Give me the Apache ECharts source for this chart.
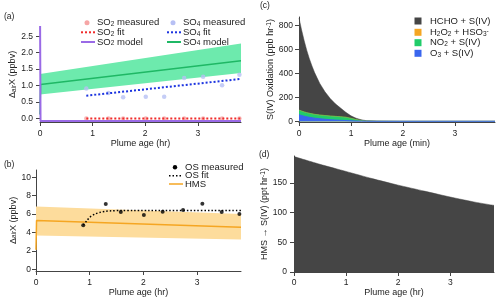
<!DOCTYPE html>
<html><head><meta charset="utf-8">
<script src="https://cdn.jsdelivr.net/npm/echarts@6/dist/echarts.min.js"></script>
<style>html,body{margin:0;padding:0;background:#fff}#c{width:500px;height:300px}</style>
</head><body><div id="c"></div>
<script>
// ---------- Panel (a) ----------
const ageHr = [0.88, 1.30, 1.58, 2.01, 2.36, 2.74, 3.10, 3.46, 3.79];
const so2Measured = [0, 0, 0, 0, 0, 0, 0, 0, 0];
const so4Measured = [0.91, 0.77, 0.64, 0.66, 0.66, 1.23, 1.27, 1.01, 1.33];
const fitX = [0.88, 3.82];
const so2Fit = [0.0, 0.0];
const so4Fit = [0.69, 1.20];
const modelX = [0, 0.01, 3.82];
const so2Model = [3.5, -0.08, -0.08];
const so4Model = [0.12, 1.03, 1.75];
const bandX = [0, 3.82];
const so4BandLow = [0.73, 1.38];
const so4BandHigh = [1.35, 2.28];
// ---------- Panel (b) ----------
const osMeasured = [4.78, 7.09, 6.22, 5.90, 6.26, 6.44, 7.12, 6.22, 6.00];
const osFitX = [0.88, 0.95, 1.0, 1.1, 1.2, 1.3, 1.4, 1.6, 1.8, 3.82];
const osFit = [4.8, 5.3, 5.65, 6.0, 6.2, 6.3, 6.35, 6.4, 6.4, 6.4];
const hmsX = [0, 0.01, 3.82];
const hms = [2.1, 5.29, 4.57];
const hmsBandLow = [3.67, 3.24];
const hmsBandHigh = [6.83, 6.0];
// ---------- Panel (c) ----------
const ageMin = [0, 0.05, 0.1, 0.15, 0.2, 0.25, 0.3, 0.4, 0.5, 0.6, 0.7, 0.8, 0.9, 1.0, 1.1, 1.2, 1.3, 1.5, 2.0, 3.0, 3.77];
const o3Ox   = [55, 48, 42, 37, 33, 29, 26, 21, 17, 13, 10, 8, 6, 4, 2, 1, 0.5, 0, 0, 0, 0];
const no2Ox  = [38, 37, 36, 35, 34, 33, 32, 31, 31, 31, 31, 30, 28, 21, 12, 6, 2.5, 1, 0, 0, 0];
const h2o2Ox = [0, 0, 0, 0, 0, 0, 0, 0, 0, 0, 0, 0, 0, 0, 0, 0, 0, 0, 0, 0, 0];
const hchoOx = [767, 675, 592, 518, 453, 398, 347, 263, 197, 146, 104, 72, 41, 20, 11, 5, 2, 1, 0, 0, 0];
// ---------- Panel (d) ----------
const ageHrD = [0, 0.5, 1, 1.5, 2, 2.5, 3, 3.5, 3.84];
const hmsToS4 = [194, 181, 169, 157, 146, 136, 126, 117, 112];
// ---------- ticks ----------
const xTicksHr = [0, 1, 2, 3];
const yTicksA = [0, 0.5, 1, 1.5, 2, 2.5];
const yTicksB = [0, 2, 4, 6, 8, 10];
const yTicksC = [0, 200, 400, 600, 800];
const yTicksD = [0, 50, 100, 150];

const FONT = '"Liberation Sans", Arial, sans-serif';
const TXT = '#222';
const AX = '#444';
const LG = 9.5;
const pairs = (xs, ys) => xs.map((x, i) => [x, ys[i]]);
const cum = (...arrs) => arrs[0].map((_, i) => arrs.reduce((s, a) => s + a[i], 0));

const richBase = {
  n: {fontSize: 9, fontFamily: FONT, color: TXT},
  s: {fontSize: 6.5, fontFamily: FONT, color: TXT, verticalAlign: 'bottom', lineHeight: 6},
  p: {fontSize: 6.5, fontFamily: FONT, color: TXT, verticalAlign: 'top', lineHeight: 6}
};

function xAx(gi, min, max, ticks, name, nameGap, margin) {
  return {
    gridIndex: gi, type: 'value', min, max, name, nameLocation: 'middle', nameGap,
    nameTextStyle: {fontFamily: FONT, fontSize: 9, color: TXT},
    axisLine: {show: true, onZero: false, lineStyle: {color: AX, width: 1}},
    axisTick: {show: true, length: 4, customValues: ticks, lineStyle: {color: AX}},
    axisLabel: {customValues: ticks, fontFamily: FONT, fontSize: 8.5, color: TXT, margin, formatter: v => String(v)},
    splitLine: {show: false}
  };
}
function yAx(gi, min, max, ticks, name, nameGap, margin, fmt) {
  return {
    gridIndex: gi, type: 'value', min, max, name, nameLocation: 'middle', nameGap, nameRotate: 90,
    nameTextStyle: {fontFamily: FONT, fontSize: 9, color: TXT, rich: richBase},
    axisLine: {show: true, onZero: false, lineStyle: {color: AX, width: 1}},
    axisTick: {show: true, length: 4, customValues: ticks, lineStyle: {color: AX}},
    axisLabel: {customValues: ticks, fontFamily: FONT, fontSize: 8.5, color: TXT, margin, formatter: fmt || (v => String(v))},
    splitLine: {show: false}
  };
}
function band(gi, xs, lo, hi, color) {
  return {
    type: 'custom', xAxisIndex: gi, yAxisIndex: gi, silent: true, z: 1,
    data: xs.map((x, i) => [x, lo[i], hi[i]]),
    encode: {x: 0, y: [1, 2]},
    renderItem(params, api) {
      if (params.dataIndex !== 0) return null;
      const top = xs.map((x, i) => api.coord([x, hi[i]]));
      const bot = xs.map((x, i) => api.coord([x, lo[i]])).reverse();
      return {type: 'polygon', shape: {points: top.concat(bot)}, style: {fill: color}};
    }
  };
}
function line(gi, data, color, width, dash, extra) {
  return Object.assign({
    type: 'line', xAxisIndex: gi, yAxisIndex: gi, data, symbol: 'none', silent: true,
    lineStyle: {color, width, type: dash || 'solid'}, animation: false
  }, extra || {});
}
function scat(gi, data, color, size) {
  return {type: 'scatter', xAxisIndex: gi, yAxisIndex: gi, data, symbolSize: size, silent: true,
    itemStyle: {color}, z: 1};
}

const C = {
  so2pt: '#f6a6a6', so4pt: '#b7c0f4', so2fit: '#f02c2c', so4fit: '#1c34e0',
  so2mod: '#9a6ae6', so4mod: '#1fb865', so4band: '#6deaad',
  hms: '#f5a623', hmsband: '#fddc9c',
  hcho: '#454545', h2o2: '#f5a623', no2: '#21cc6a', o3: '#3a66ee'
};

// cumulative stacks for panel (c)
const topO3 = cum(o3Ox);
const topNO2 = cum(o3Ox, no2Ox);
const topH2O2 = cum(o3Ox, no2Ox, h2o2Ox);
const topHCHO = cum(o3Ox, no2Ox, h2o2Ox, hchoOx);

function txt(x, y, text, size, align) {
  const fs = size || LG;
  return {type: 'text', x, y, silent: true, style: {text, rich: {
    n: {fontSize: fs, fontFamily: FONT, fill: TXT},
    s: {fontSize: 6.5, fontFamily: FONT, fill: TXT, verticalAlign: 'bottom', lineHeight: 6},
    p: {fontSize: 6.5, fontFamily: FONT, fill: TXT, verticalAlign: 'top', lineHeight: 6}
  }, fontSize: fs, fontFamily: FONT, fill: TXT, align: align || 'left', verticalAlign: 'middle'}};
}
function lg(x1, x2, y, color, w, dash) {
  return {type: 'line', silent: true, shape: {x1, y1: y, x2, y2: y}, style: {stroke: color, lineWidth: w, lineDash: dash || null}};
}
function dot(cx, cy, r, color) {
  return {type: 'circle', silent: true, shape: {cx, cy, r}, style: {fill: color}};
}
function sq(x, y, s, color) {
  return {type: 'rect', silent: true, shape: {x: x - s / 2, y: y - s / 2, width: s, height: s}, style: {fill: color}};
}

const option = {
  animation: false,
  backgroundColor: '#fff',
  grid: [
    {left: 40, top: 27, width: 201, height: 95},
    {left: 36, top: 170, width: 205, height: 101},
    {left: 299, top: 17, width: 196, height: 105},
    {left: 294, top: 156, width: 200, height: 116}
  ],
  xAxis: [
    xAx(0, 0, 3.82, xTicksHr, 'Plume age (hr)', 17, 7),
    xAx(1, 0, 3.82, xTicksHr, 'Plume age (hr)', 17, 7),
    xAx(2, 0, 3.77, xTicksHr, 'Plume age (min)', 17, 7),
    xAx(3, 0, 3.84, xTicksHr, 'Plume age (hr)', 15, 6)
  ],
  yAxis: [
    yAx(0, -0.11, 2.78, yTicksA, '{n|Δ}{s|air}{n|X (ppbv)}', 19, 7, v => v.toFixed(1)),
    yAx(1, -0.2, 10.8, yTicksB, '{n|Δ}{s|air}{n|X (ppbv)}', 17, 5),
    yAx(2, -6, 868, yTicksC, '{n|S(IV) Oxidation (ppb hr}{p|-1}{n|)}', 20, 6),
    yAx(3, 0, 195, yTicksD, '{n|HMS → S(IV) (ppt hr}{p|-1}{n|)}', 20, 7)
  ],
  series: [
    // (a)
    band(0, bandX, so4BandLow, so4BandHigh, C.so4band),
    scat(0, pairs(ageHr, so2Measured), C.so2pt, 4.5),
    scat(0, pairs(ageHr, so4Measured), C.so4pt, 4.5),
    line(0, pairs(modelX, so4Model), C.so4mod, 1.5),
    line(0, pairs(fitX, so2Fit), C.so2fit, 2, [2, 2]),
    line(0, pairs(fitX, so4Fit), C.so4fit, 2, [2, 2]),
    line(0, pairs(modelX, so2Model), C.so2mod, 2),
    // (b)
    band(1, bandX, hmsBandLow, hmsBandHigh, C.hmsband),
    line(1, pairs(hmsX, hms), C.hms, 1.5),
    scat(1, pairs(ageHr, osMeasured), '#000', 4),
    line(1, pairs(osFitX, osFit), '#000', 1.5, [1.5, 2], {smooth: 0.3}),
    // (c) stacked: drawn top-down so lower layers overlay
    line(2, pairs(ageMin, topHCHO), C.hcho, 0.5, null, {areaStyle: {color: C.hcho, opacity: 1}}),
    line(2, pairs(ageMin, topH2O2), C.h2o2, 0.5, null, {areaStyle: {color: C.h2o2, opacity: 1}}),
    line(2, pairs(ageMin, topNO2), C.no2, 0.5, null, {areaStyle: {color: C.no2, opacity: 1}}),
    line(2, pairs(ageMin, topO3), C.o3, 1, null, {areaStyle: {color: C.o3, opacity: 1}}),
    // (d)
    line(3, pairs(ageHrD, hmsToS4), C.hcho, 0.5, null, {areaStyle: {color: C.hcho, opacity: 1}, smooth: 0.2})
  ],
  graphic: [
    txt(4, 17, '(a)', 8.5),
    txt(4, 165, '(b)', 8.5),
    txt(260, 6, '(c)', 8.5),
    txt(259, 155, '(d)', 8.5),
    // legend (a)
    dot(87, 22.7, 2.5, C.so2pt), txt(97, 22.7, '{n|SO}{s|2}{n| measured}'),
    lg(81, 95, 32.3, C.so2fit, 2, [2, 2]), txt(97, 32.3, '{n|SO}{s|2}{n| fit}'),
    lg(81, 95, 42, C.so2mod, 2), txt(97, 42, '{n|SO}{s|2}{n| model}'),
    dot(173, 22.7, 2.5, C.so4pt), txt(183, 22.7, '{n|SO}{s|4}{n| measured}'),
    lg(167, 181, 32.3, C.so4fit, 2, [2, 2]), txt(183, 32.3, '{n|SO}{s|4}{n| fit}'),
    lg(167, 181, 42, C.so4mod, 2), txt(183, 42, '{n|SO}{s|4}{n| model}'),
    // legend (b)
    dot(175, 167.3, 2.2, '#000'), txt(185, 167.3, '{n|OS measured}'),
    lg(169, 183, 175.7, '#000', 1.5, [1.5, 2]), txt(185, 175.7, '{n|OS fit}'),
    lg(169, 183, 184, C.hms, 1.5), txt(185, 184, '{n|HMS}'),
    // legend (c)
    sq(418, 21, 7, C.hcho), txt(430, 21, '{n|HCHO + S(IV)}'),
    sq(418, 32.3, 7, C.h2o2), txt(430, 32.3, '{n|H}{s|2}{n|O}{s|2}{n| + HSO}{s|3}{p|-}'),
    sq(418, 42.7, 7, C.no2), txt(430, 42.7, '{n|NO}{s|2}{n| + S(IV)}'),
    sq(418, 53.3, 7, C.o3), txt(430, 53.3, '{n|O}{s|3}{n| + S(IV)}')
  ]
};
const chart = echarts.init(document.getElementById('c'), null, {renderer: 'canvas'});
chart.setOption(option);
</script></body></html>
